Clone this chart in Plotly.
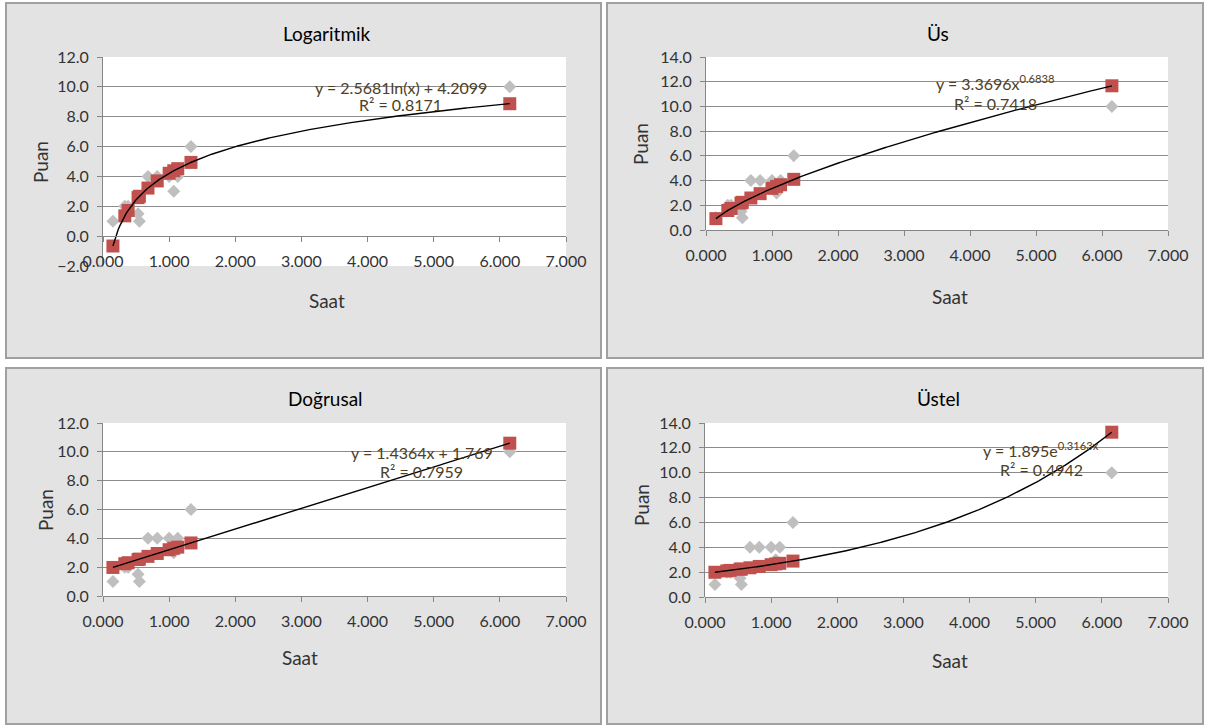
import numpy as np
import plotly.graph_objects as go

W, H = 1206, 727

# ---- data ----
saat = [0.15, 0.33, 0.38, 0.53, 0.55, 0.68, 0.82, 1.00, 1.07, 1.13, 1.33, 6.15]
puan = [1.0, 2.0, 2.0, 1.5, 1.0, 4.0, 4.0, 4.0, 3.0, 4.0, 6.0, 10.0]

pred_log = [-0.66, 1.36, 1.72, 2.58, 2.67, 3.22, 3.70, 4.21, 4.38, 4.52, 4.94, 8.87]
pred_pow = [0.92, 1.58, 1.74, 2.18, 2.24, 2.59, 2.94, 3.37, 3.53, 3.66, 4.10, 11.67]
pred_lin = [1.98, 2.24, 2.31, 2.53, 2.56, 2.75, 2.95, 3.21, 3.31, 3.39, 3.68, 10.60]
pred_exp = [1.99, 2.10, 2.14, 2.24, 2.25, 2.35, 2.46, 2.60, 2.66, 2.71, 2.89, 13.26]

# trendline coefficients (as shown in the chart)
log_a, log_b = 2.5681, 4.2099
pow_a, pow_b = 3.3696, 0.6838
lin_a, lin_b = 1.4364, 1.769
exp_a, exp_b = 1.895, 0.3163

titles = ["Logaritmik", "Üs", "Doğrusal", "Üstel"]
eq_texts = ["y = 2.5681ln(x) + 4.2099", "y = 3.3696x<sup>0.6838</sup>",
            "y = 1.4364x + 1.769", "y = 1.895e<sup>0.3163x</sup>"]
r2_texts = ["R² = 0.8171", "R² = 0.7418", "R² = 0.7959", "R² = 0.4942"]
x_ticks = [0, 1, 2, 3, 4, 5, 6, 7]
y_ranges = [(-2, 12), (0, 14), (0, 12), (0, 14)]

FONT = "Lato"
TXT = "#333333"
EQC = "#4d4026"


def px(x):
    return x / W


def py(y):
    return 1 - y / H


xs = np.linspace(min(saat), max(saat), 300)
trends = [log_a * np.log(xs) + log_b,
          pow_a * xs ** pow_b,
          lin_a * xs + lin_b,
          exp_a * np.exp(exp_b * xs)]
preds = [pred_log, pred_pow, pred_lin, pred_exp]

# plot-area boxes in pixels: (left, right, top, bottom)
boxes = [(103, 566, 57, 266), (706, 1168, 57, 230),
         (103, 566, 423, 596), (705, 1168, 423, 597)]
# panel frames
panels = [(6, 601, 3, 358), (607, 1203, 3, 358),
          (6, 601, 368, 724), (607, 1203, 368, 724)]
title_pos = [(327, 33), (938, 33), (325, 398), (938, 398)]
saat_pos = [(327, 300), (950, 296), (300, 657), (950, 660)]
puan_pos = [(40, 162), (641, 144), (45, 510), (642, 505)]
eq_pos = [(401, 87), (995, 82), (422, 452), (1041, 450)]
r2_pos = [(400, 104), (995, 103), (421, 472), (1041, 469)]

fig = go.Figure()
shapes = []
annotations = []
layout_axes = {}


def label(text, pos, size, color, angle=0):
    return dict(text=text, x=px(pos[0]), y=py(pos[1]), xref="paper", yref="paper",
                xanchor="center", yanchor="middle", showarrow=False, textangle=angle,
                font=dict(family=FONT, size=size, color=color))


for i in range(4):
    n = "" if i == 0 else str(i + 1)
    xa, ya = "x" + n, "y" + n
    l, r, t, b = boxes[i]
    y0, y1 = y_ranges[i]
    dom_y = [py(b), py(t)]
    # x axis crosses at y = 0
    xpos = dom_y[0] + (0 - y0) / (y1 - y0) * (dom_y[1] - dom_y[0])

    fig.add_trace(go.Scatter(x=saat, y=puan, mode="markers", xaxis=xa, yaxis=ya,
                             marker=dict(symbol="diamond", size=10, color="#bfbfbf"),
                             showlegend=False, hoverinfo="skip"))
    fig.add_trace(go.Scatter(x=saat, y=preds[i], mode="markers", xaxis=xa, yaxis=ya,
                             marker=dict(symbol="square", size=13, color="#c0504d"),
                             showlegend=False, hoverinfo="skip"))
    fig.add_trace(go.Scatter(x=xs, y=trends[i], mode="lines", xaxis=xa, yaxis=ya,
                             line=dict(color="black", width=1.4),
                             showlegend=False, hoverinfo="skip"))

    xaxis = dict(domain=[px(l), px(r)], range=[0, 7], tickvals=x_ticks,
                 tickformat=".3f", showgrid=False, zeroline=False,
                 showline=True, linecolor="#868686", linewidth=1,
                 ticks="outside", ticklen=5, tickcolor="#868686",
                 ticklabelstandoff=6,
                 tickfont=dict(family=FONT, size=16, color=TXT),
                 anchor="free", position=xpos, fixedrange=True, automargin=False)
    yaxis = dict(domain=dom_y, range=[y0, y1], dtick=2, tick0=0,
                 tickformat=".1f", showgrid=True, gridcolor="#8c8c8c", gridwidth=1,
                 zeroline=False, showline=True, linecolor="#868686", linewidth=1,
                 ticks="outside", ticklen=5, tickcolor="#868686",
                 ticklabelstandoff=5,
                 tickfont=dict(family=FONT, size=16, color=TXT),
                 anchor=xa, fixedrange=True, automargin=False)
    if i == 0:
        yaxis["tickvals"] = [-2, 0, 2, 4, 6, 8, 10, 12]
    layout_axes["xaxis" + n] = xaxis
    layout_axes["yaxis" + n] = yaxis

    pl, pr, pt, pb = panels[i]
    shapes.append(dict(type="rect", xref="paper", yref="paper", layer="below",
                       x0=px(pl), x1=px(pr), y0=py(pb), y1=py(pt),
                       fillcolor="#e3e3e3", line=dict(color="#a0a0a0", width=2)))
    shapes.append(dict(type="rect", xref="paper", yref="paper", layer="below",
                       x0=px(l), x1=px(r), y0=py(b), y1=py(t),
                       fillcolor="white", line=dict(width=0)))

    annotations.append(label(titles[i], title_pos[i], 19, "black"))
    annotations.append(label("Saat", saat_pos[i], 19, TXT))
    annotations.append(label("Puan", puan_pos[i], 19, TXT, -90))
    annotations.append(label(eq_texts[i], eq_pos[i], 16, EQC))
    annotations.append(label(r2_texts[i], r2_pos[i], 16, EQC))

fig.update_layout(width=W, height=H, margin=dict(l=0, r=0, t=0, b=0, pad=0),
                  autosize=False,
                  paper_bgcolor="white", plot_bgcolor="rgba(0,0,0,0)",
                  shapes=shapes, annotations=annotations, showlegend=False,
                  **layout_axes)

fig.write_html("out.html", config={"displayModeBar": False},
               post_script="document.body.style.margin='0';"
                           "document.body.style.overflow='hidden';")
